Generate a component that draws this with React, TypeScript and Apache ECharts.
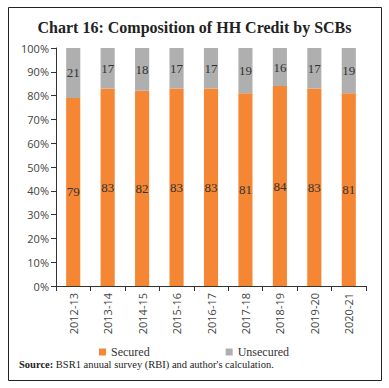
import React, { useEffect, useRef } from "react";
import * as echarts from "echarts";

const categories = ["2012-13", "2013-14", "2014-15", "2015-16", "2016-17", "2017-18", "2018-19", "2019-20", "2020-21"];
const secured = [79, 83, 82, 83, 83, 81, 84, 83, 81];
const unsecured = [21, 17, 18, 17, 17, 19, 16, 17, 19];
const titleText = "Chart 16: Composition of HH Credit by SCBs";

const SERIF = "'Liberation Serif', 'DejaVu Serif', serif";
const SANS = "'Open Sans', 'Liberation Sans', sans-serif";

export default function App() {
  const ref = useRef<HTMLDivElement>(null);
  useEffect(() => {
    if (!ref.current) return;
    const chart = echarts.init(ref.current, null, { renderer: "svg" });
    const labelStyle = {
      show: true,
      position: "inside" as const,
      color: "#333",
      fontFamily: SERIF,
      fontSize: 13,
    };
    chart.setOption({
      animation: false,
      backgroundColor: "#fff",
      title: {
        text: titleText,
        left: "center",
        top: 14,
        textStyle: { fontFamily: SERIF, fontSize: 16, fontWeight: "bold", color: "#222" },
      },
      grid: { left: 56, right: 23, top: 48, bottom: 102, containLabel: false },
      legend: {
        left: 94,
        top: 341,
        itemWidth: 7,
        itemHeight: 7,
        itemGap: 76,
        icon: "rect",
        textStyle: { fontFamily: SERIF, fontSize: 12, color: "#333" },
        data: ["Secured", "Unsecured"],
      },
      xAxis: {
        type: "category",
        data: categories,
        axisLine: { lineStyle: { color: "#333", width: 1 } },
        axisTick: { show: true, alignWithLabel: false, length: 5, lineStyle: { color: "#333" } },
        axisLabel: { rotate: 90, fontFamily: SANS, fontSize: 11, color: "#444", margin: 7, interval: 0 },
      },
      yAxis: {
        type: "value",
        min: 0,
        max: 100,
        interval: 10,
        axisLine: { show: true, lineStyle: { color: "#333", width: 1 } },
        axisTick: { show: true, length: 5, lineStyle: { color: "#333" } },
        splitLine: { show: false },
        axisLabel: { formatter: "{value}%", fontFamily: SANS, fontSize: 11, color: "#444", margin: 7 },
      },
      series: [
        {
          name: "Secured",
          type: "bar",
          stack: "total",
          data: secured,
          barWidth: "41%",
          itemStyle: { color: "#F58634" },
          label: labelStyle,
        },
        {
          name: "Unsecured",
          type: "bar",
          stack: "total",
          data: unsecured,
          barWidth: "41%",
          itemStyle: { color: "#AFAFAF" },
          label: labelStyle,
        },
      ],
      graphic: [
        {
          type: "rect",
          shape: { x: 8.5, y: 7.5, width: 373, height: 373 },
          style: { fill: "none", stroke: "#222", lineWidth: 1 },
          silent: true,
        },
        {
          type: "text",
          left: 19,
          top: 359,
          style: {
            text: "{b|Source:} BSR1 anuual survey (RBI) and author's calculation.",
            fontFamily: SERIF,
            fontSize: 10.5,
            fill: "#222",
            rich: {
              b: { fontFamily: SERIF, fontSize: 10.5, fontWeight: "bold", fill: "#222" },
            },
          },
        },
      ],
    });
    return () => chart.dispose();
  }, []);
  return (
    <div
      ref={ref}
      style={{ position: "fixed", left: 0, top: 0, width: 389, height: 388 }}
    />
  );
}
